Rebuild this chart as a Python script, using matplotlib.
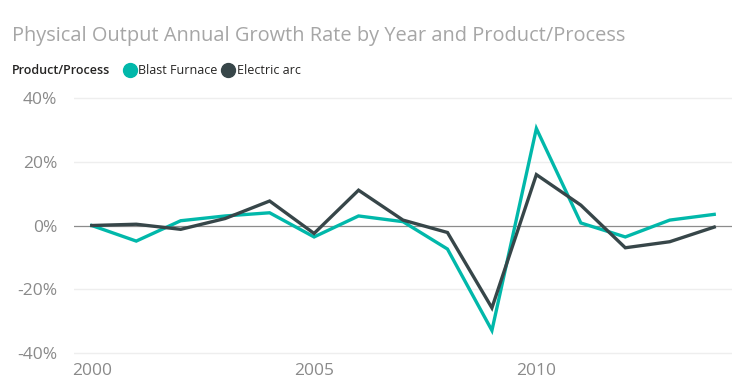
import matplotlib
matplotlib.use("Agg")
import matplotlib.pyplot as plt
from matplotlib.lines import Line2D

plt.rcParams['font.family'] = ['Open Sans', 'DejaVu Sans']

years = [2000, 2001, 2002, 2003, 2004, 2005, 2006, 2007, 2008, 2009, 2010, 2011, 2012, 2013, 2014]
blast_furnace = [0.0, -4.9, 1.5, 3.0, 4.0, -3.6, 3.0, 1.2, -7.4, -33.0, 30.5, 0.8, -3.6, 1.7, 3.5]
electric_arc = [0.0, 0.4, -1.2, 2.2, 7.7, -2.5, 11.1, 1.7, -2.2, -25.9, 16.0, 6.4, -7.0, -5.1, -0.5]
series_names = ["Blast Furnace", "Electric arc"]
y_ticks = [-40, -20, 0, 20, 40]
x_ticks = [2000, 2005, 2010]

teal = "#01B8AA"
dark = "#374649"

W, H = 742, 382
fig = plt.figure(figsize=(W / 100, H / 100), dpi=100)
left, right = 74, 732
top, bottom = 95.1, 355.9
ax = fig.add_axes([left / W, 1 - bottom / H, (right - left) / W, (bottom - top) / H])

ax.plot(years, blast_furnace, color=teal, lw=2.4, solid_joinstyle='miter', zorder=3)
ax.plot(years, electric_arc, color=dark, lw=2.4, solid_joinstyle='miter', zorder=3)

ax.set_xlim(1999.6, 2014.4)
ax.set_ylim(-41, 41)
ax.set_yticks(y_ticks)
ax.set_yticklabels([f"{v}%" for v in y_ticks])
ax.set_xticks(x_ticks)
ax.set_xticklabels([str(v) for v in x_ticks])

for v in y_ticks:
    if v == 0:
        ax.axhline(v, color="#8c8c8c", lw=0.9, zorder=2)
    else:
        ax.axhline(v, color="#eeeeee", lw=1.0, zorder=1)

for s in ax.spines.values():
    s.set_visible(False)
ax.tick_params(axis='both', length=0, colors="#8a8a8a", labelsize=12.5)
ax.tick_params(axis='y', pad=12)
ax.tick_params(axis='x', pad=5)

fig.text(12 / W, 1 - 36 / H, "Physical Output Annual Growth Rate by Year and Product/Process",
         color="#a6a6a6", fontsize=14.4, va='center', ha='left')

fig.text(12 / W, 1 - 71 / H, "Product/Process", color="#252423", fontsize=9,
         fontweight='semibold', va='center', ha='left')
for cx, tx, name, col in [(130, 138, series_names[0], teal), (228, 237, series_names[1], dark)]:
    fig.add_artist(Line2D([cx / W], [1 - 70 / H], marker='o', markersize=10,
                          color=col, linestyle='none', transform=fig.transFigure))
    fig.text(tx / W, 1 - 71 / H, name, color="#252423", fontsize=9, va='center', ha='left')

fig.savefig("out.png", dpi=100)
